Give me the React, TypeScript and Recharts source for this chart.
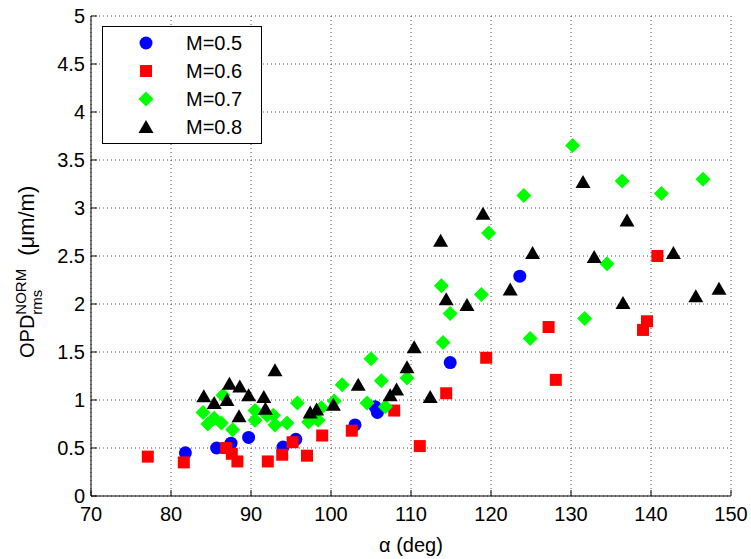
import React from 'react';
import { ScatterChart, Scatter, XAxis, YAxis, CartesianGrid, Legend } from 'recharts';

// angle of attack (deg) and normalised OPD rms (um/m), per Mach number
const alpha05 = [81.8, 85.7, 87.5, 89.7, 94.0, 95.6, 103.0, 105.5, 105.8, 114.9, 123.6];
const opd05 = [0.45, 0.5, 0.55, 0.61, 0.51, 0.59, 0.74, 0.93, 0.87, 1.39, 2.29];

const alpha06 = [77.1, 81.6, 86.9, 87.6, 88.3, 92.1, 93.9, 95.2, 97.0, 98.9, 102.6, 107.9, 111.1, 114.4, 119.4, 127.2, 128.1, 139.0, 139.5, 140.8];
const opd06 = [0.41, 0.35, 0.5, 0.44, 0.36, 0.36, 0.43, 0.56, 0.42, 0.63, 0.68, 0.89, 0.52, 1.07, 1.44, 1.76, 1.21, 1.73, 1.82, 2.5];

const alpha07 = [84.0, 84.6, 85.4, 86.3, 86.5, 87.7, 90.5, 90.5, 92.0, 92.8, 93.0, 94.5, 95.8, 97.2, 98.4, 98.8, 100.4, 101.4, 104.5, 105.0, 106.3, 106.8, 109.5, 113.8, 114.0, 114.9, 118.8, 119.7, 124.1, 124.9, 130.2, 131.7, 134.5, 136.4, 141.3, 146.5];
const opd07 = [0.87, 0.75, 0.81, 0.76, 1.05, 0.69, 0.89, 0.79, 0.84, 0.84, 0.74, 0.76, 0.97, 0.77, 0.79, 0.92, 0.99, 1.16, 0.97, 1.43, 1.2, 0.93, 1.23, 2.19, 1.6, 1.9, 2.1, 2.74, 3.13, 1.64, 3.65, 1.85, 2.42, 3.28, 3.15, 3.3];

const alpha08 = [84.1, 85.4, 87.0, 87.3, 88.6, 89.7, 88.5, 91.6, 91.8, 93.0, 97.4, 98.2, 100.3, 103.4, 107.4, 108.2, 109.5, 110.4, 112.4, 113.7, 114.4, 117.0, 119.0, 122.4, 125.2, 131.5, 132.9, 136.5, 137.0, 142.8, 145.6, 148.5];
const opd08 = [1.04, 0.97, 1.0, 1.17, 1.14, 1.05, 0.83, 1.03, 0.91, 1.31, 0.87, 0.9, 0.95, 1.16, 1.05, 1.11, 1.34, 1.55, 1.03, 2.66, 2.05, 1.99, 2.94, 2.15, 2.53, 3.27, 2.49, 2.01, 2.87, 2.53, 2.08, 2.16];

const seriesNames = ['M=0.5', 'M=0.6', 'M=0.7', 'M=0.8'];
const xTicks = [70, 80, 90, 100, 110, 120, 130, 140, 150];
const yTicks = [0, 0.5, 1, 1.5, 2, 2.5, 3, 3.5, 4, 4.5, 5];

const toPoints = (xs: number[], ys: number[]) => xs.map((a, i) => ({ alpha: a, opd: ys[i] }));

const data05 = toPoints(alpha05, opd05);
const data06 = toPoints(alpha06, opd06);
const data07 = toPoints(alpha07, opd07);
const data08 = toPoints(alpha08, opd08);

// marker drawing, matlab style
const drawMarker = (kind: number, cx: number, cy: number) => {
  if (kind === 0) return <circle cx={cx} cy={cy} r={6.5} fill="#0000ff" />;
  if (kind === 1) return <rect x={cx - 6} y={cy - 6} width={12} height={12} fill="#ff0000" />;
  if (kind === 2)
    return <polygon points={`${cx},${cy - 7.5} ${cx + 7.5},${cy} ${cx},${cy + 7.5} ${cx - 7.5},${cy}`} fill="#00ff00" />;
  return <polygon points={`${cx},${cy - 7} ${cx + 7.5},${cy + 6} ${cx - 7.5},${cy + 6}`} fill="#000000" />;
};

const shapeFor = (kind: number) => (props: any) => drawMarker(kind, props.cx, props.cy);

const LegendBox = () => (
  <svg width={160} height={118}>
    <rect x={0.5} y={0.5} width={159} height={117} fill="#fff" stroke="#000" />
    {seriesNames.map((name, i) => (
      <g key={name}>
        {drawMarker(i, 44, 17 + i * 28)}
        <text x={84} y={24 + i * 28} fontSize={20} fill="#000">
          {name}
        </text>
      </g>
    ))}
  </svg>
);

const YLabel = () => (
  <text transform="translate(34,358) rotate(-90)" fontSize={20} fill="#000">
    <tspan>OPD</tspan>
    <tspan fontSize={15} dy={-8}>NORM</tspan>
    <tspan fontSize={15} dx={-46} dy={16}>rms</tspan>
    <tspan fontSize={22} dx={34} dy={-8}>(μm/m)</tspan>
  </text>
);

const XLabel = (props: any) => {
  const vb = props.viewBox;
  return (
    <text x={vb.x + vb.width / 2} y={vb.y + 56} textAnchor="middle" fontSize={20} fill="#000">
      α (deg)
    </text>
  );
};

const App = () => {
  return (
    <div
      style={{
        position: 'absolute',
        left: 0,
        top: 0,
        width: 751,
        height: 559,
        background: '#fff',
        fontFamily: '"Liberation Sans", Arial, sans-serif',
      }}
    >
      <ScatterChart width={751} height={559} margin={{ top: 16, right: 20, bottom: 13, left: 0 }}>
        <CartesianGrid stroke="#555" strokeDasharray="1 3" />
        <XAxis
          type="number"
          dataKey="alpha"
          domain={[70, 150]}
          ticks={xTicks}
          allowDataOverflow
          height={50}
          tickSize={-6}
          tickMargin={17}
          axisLine={{ stroke: '#000' }}
          tickLine={{ stroke: '#000' }}
          tick={{ fontSize: 20, fill: '#000' }}
          label={<XLabel />}
        />
        <XAxis
          xAxisId="top"
          orientation="top"
          type="number"
          domain={[70, 150]}
          ticks={xTicks}
          allowDataOverflow
          height={0}
          tickSize={-6}
          tick={false}
          axisLine={{ stroke: '#000' }}
          tickLine={{ stroke: '#000' }}
        />
        <YAxis
          type="number"
          dataKey="opd"
          domain={[0, 5]}
          ticks={yTicks}
          allowDataOverflow
          width={91}
          tickSize={-6}
          tickMargin={12}
          axisLine={{ stroke: '#000' }}
          tickLine={{ stroke: '#000' }}
          tick={{ fontSize: 20, fill: '#000' }}
          label={<YLabel />}
        />
        <YAxis
          yAxisId="right"
          orientation="right"
          type="number"
          domain={[0, 5]}
          ticks={yTicks}
          allowDataOverflow
          width={0}
          tickSize={-6}
          tick={false}
          axisLine={{ stroke: '#000' }}
          tickLine={{ stroke: '#000' }}
        />
        <Legend
          layout="vertical"
          align="center"
          verticalAlign="middle"
          wrapperStyle={{ position: 'absolute', left: 102, top: 26, width: 160, height: 118 }}
          content={() => <LegendBox />}
        />
        <Scatter name={seriesNames[0]} data={data05} shape={shapeFor(0)} isAnimationActive={false} />
        <Scatter name={seriesNames[1]} data={data06} shape={shapeFor(1)} isAnimationActive={false} />
        <Scatter name={seriesNames[2]} data={data07} shape={shapeFor(2)} isAnimationActive={false} />
        <Scatter name={seriesNames[3]} data={data08} shape={shapeFor(3)} isAnimationActive={false} />
      </ScatterChart>
    </div>
  );
};

export default App;
